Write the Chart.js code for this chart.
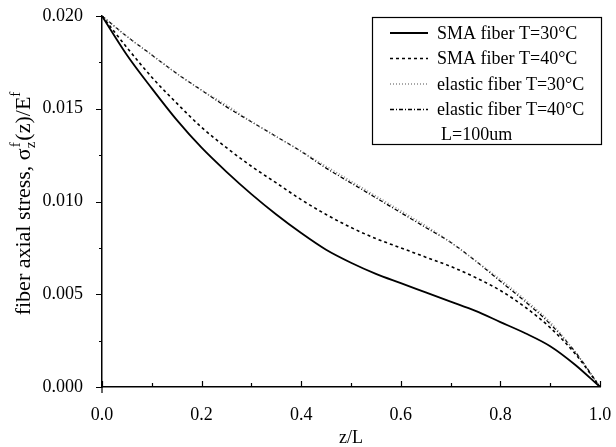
<!DOCTYPE html>
<html>
<head>
<meta charset="utf-8">
<script src="https://cdn.jsdelivr.net/npm/chart.js@4.4.1/dist/chart.umd.min.js"></script>
<style>
  html, body { margin: 0; padding: 0; background: #fff; }
  #wrap { width: 616px; height: 447px; }
</style>
</head>
<body>
<div id="wrap"><canvas id="stress-chart" width="616" height="447"></canvas></div>
<script>
// z/L positions
const zPos = [0, 0.05, 0.1, 0.15, 0.2, 0.25, 0.3, 0.35, 0.4, 0.45, 0.5,
              0.55, 0.6, 0.65, 0.7, 0.75, 0.8, 0.85, 0.9, 0.95, 1.0];

// normalised axial stress
const smaT30 = [0.0200, 0.0179, 0.0161, 0.0144, 0.0129, 0.0116, 0.0104, 0.0093, 0.0083, 0.0074, 0.0067,
                0.0061, 0.0056, 0.0051, 0.0046, 0.0041, 0.0035, 0.0029, 0.0022, 0.0012, 0.0000];
const smaT40 = [0.0200, 0.0183, 0.0167, 0.0153, 0.0140, 0.0129, 0.0119, 0.0110, 0.0101, 0.0093, 0.0086,
                0.0080, 0.0075, 0.0070, 0.0065, 0.0059, 0.0052, 0.0043, 0.0032, 0.0018, 0.0000];
const elasticT30 = [0.0200, 0.0189, 0.0179, 0.0169, 0.0160, 0.0152, 0.0143, 0.0135, 0.0127, 0.0119, 0.0111,
                    0.0103, 0.0095, 0.0087, 0.0078, 0.0068, 0.0058, 0.0047, 0.0035, 0.0019, 0.0000];
const elasticT40 = [0.0200, 0.0189, 0.0179, 0.0169, 0.0160, 0.0151, 0.0143, 0.0135, 0.0127, 0.0118, 0.0110,
                    0.0102, 0.0094, 0.0086, 0.0078, 0.0068, 0.0057, 0.0046, 0.0034, 0.0019, 0.0000];

const seriesLabels = ['SMA fiber T=30°C', 'SMA fiber T=40°C', 'elastic fiber T=30°C', 'elastic fiber T=40°C'];
const legendNote = 'L=100um';
const xTitle = 'z/L';

const serif = "'Liberation Serif', 'Times New Roman', serif";

function toPoints(vals) {
    return zPos.map((z, i) => ({ x: z, y: vals[i] }));
}

// minor/major tick marks: x ticks inward, y ticks outward
const tickMarks = {
    id: 'tickMarks',
    afterDraw(chart) {
        const ctx = chart.ctx;
        const xs = chart.scales.x, ys = chart.scales.y;
        ctx.save();
        ctx.strokeStyle = '#000';
        ctx.lineWidth = 1.2;
        ctx.beginPath();
        xs.ticks.forEach((t, i) => {
            const px = Math.round(xs.getPixelForTick(i)) + 0.5;
            const len = i % 2 === 0 ? 6 : 4;
            ctx.moveTo(px, xs.top);
            ctx.lineTo(px, xs.top - len);
        });
        ys.ticks.forEach((t, i) => {
            const py = Math.round(ys.getPixelForTick(i)) + 0.5;
            const len = i % 2 === 0 ? 6 : 3;
            ctx.moveTo(ys.right, py);
            ctx.lineTo(ys.right - len, py);
        });
        // axis line runs a bit below the origin
        ctx.moveTo(ys.right, xs.top);
        ctx.lineTo(ys.right, xs.top + 6);
        ctx.stroke();
        ctx.restore();
    }
};

// y title with sub/superscripts
const yTitle = {
    id: 'yTitle',
    afterDraw(chart) {
        const ctx = chart.ctx;
        const area = chart.chartArea;
        const big = '22px ' + serif, small = '15px ' + serif;
        const parts = [
            { t: 'fiber axial stress, σ', f: big, dy: 0 },
            { t: 'z', f: small, dy: 5, stackWith: 'f' },
            { t: '(z)/E', f: big, dy: 0 },
            { t: 'f', f: small, dy: -10 }
        ];
        ctx.save();
        let total = 0;
        parts.forEach(p => {
            ctx.font = p.f;
            let w = ctx.measureText(p.t).width;
            if (p.stackWith) w = Math.max(w, ctx.measureText(p.stackWith).width);
            p.w = w;
            total += w + (p.stackWith ? 1 : 0);
        });
        const cy = (area.top + area.bottom) / 2 + 2;
        ctx.translate(30, cy);
        ctx.rotate(-Math.PI / 2);
        ctx.fillStyle = '#000';
        ctx.textBaseline = 'alphabetic';
        let x = -total / 2;
        parts.forEach(p => {
            ctx.font = p.f;
            ctx.fillText(p.t, x, p.dy);
            if (p.stackWith) ctx.fillText(p.stackWith, x + 1, -10);
            x += p.w + (p.stackWith ? 1 : 0);
        });
        ctx.restore();
    }
};

// boxed legend inside the plot, top right
const boxLegend = {
    id: 'boxLegend',
    afterDraw(chart) {
        const ctx = chart.ctx;
        const left = 372, top = 17, right = 601, bottom = 144;
        ctx.save();
        ctx.strokeStyle = '#000';
        ctx.lineWidth = 1.2;
        ctx.strokeRect(left + 0.5, top + 0.5, right - left, bottom - top);
        ctx.font = '18px ' + serif;
        ctx.textBaseline = 'middle';
        ctx.fillStyle = '#000';
        chart.data.datasets.forEach((ds, i) => {
            const y = 33 + i * 25.5;
            ctx.save();
            ctx.strokeStyle = ds.borderColor;
            ctx.lineWidth = ds.borderWidth;
            ctx.setLineDash(ds.borderDash || []);
            ctx.beginPath();
            ctx.moveTo(390, y);
            ctx.lineTo(428, y);
            ctx.stroke();
            ctx.restore();
            ctx.fillText(ds.label, 437, y + 1);
        });
        ctx.fillText(legendNote, 441, 135);
        ctx.restore();
    }
};

const ctx = document.getElementById('stress-chart').getContext('2d');
new Chart(ctx, {
    type: 'line',
    data: {
        datasets: [
            { label: seriesLabels[0], data: toPoints(smaT30), borderColor: '#000', borderWidth: 1.8, borderDash: [] },
            { label: seriesLabels[1], data: toPoints(smaT40), borderColor: '#000', borderWidth: 1.6, borderDash: [3, 3] },
            { label: seriesLabels[2], data: toPoints(elasticT30), borderColor: '#8a8a8a', borderWidth: 1.4, borderDash: [1, 2] },
            { label: seriesLabels[3], data: toPoints(elasticT40), borderColor: '#000', borderWidth: 1.3, borderDash: [4, 2, 1, 2] }
        ]
    },
    options: {
        responsive: false,
        animation: false,
        elements: {
            point: { radius: 0, hoverRadius: 0 },
            line: { fill: false, cubicInterpolationMode: 'monotone' }
        },
        layout: { autoPadding: false, padding: { top: 16, right: 16, left: 0, bottom: 0 } },
        plugins: { legend: { display: false }, tooltip: { enabled: false } },
        scales: {
            x: {
                type: 'linear',
                min: 0,
                max: 1,
                afterFit(scale) { scale.height = 60; },
                border: { display: true, color: '#000', width: 1.5 },
                // marks are drawn by tickMarks; tickLength only spaces the labels
                grid: { display: false, drawTicks: true, tickLength: 17 },
                ticks: {
                    stepSize: 0.1,
                    autoSkip: false,
                    maxRotation: 0,
                    padding: 0,
                    color: '#000',
                    font: { family: serif, size: 18 },
                    callback: (v, i) => i % 2 === 0 ? v.toFixed(1) : ''
                },
                title: {
                    display: true,
                    text: xTitle,
                    color: '#000',
                    font: { family: serif, size: 18 },
                    padding: { top: 0, bottom: -2 }
                }
            },
            y: {
                min: 0,
                max: 0.02,
                afterFit(scale) { scale.width = 102; },
                border: { display: true, color: '#000', width: 1.5 },
                grid: { display: false, drawTicks: true, tickLength: 19 },
                ticks: {
                    stepSize: 0.0025,
                    autoSkip: false,
                    padding: 0,
                    color: '#000',
                    font: { family: serif, size: 18 },
                    callback: (v, i) => i % 2 === 0 ? v.toFixed(3) : ''
                }
            }
        }
    },
    plugins: [tickMarks, yTitle, boxLegend]
});
</script>
</body>
</html>
